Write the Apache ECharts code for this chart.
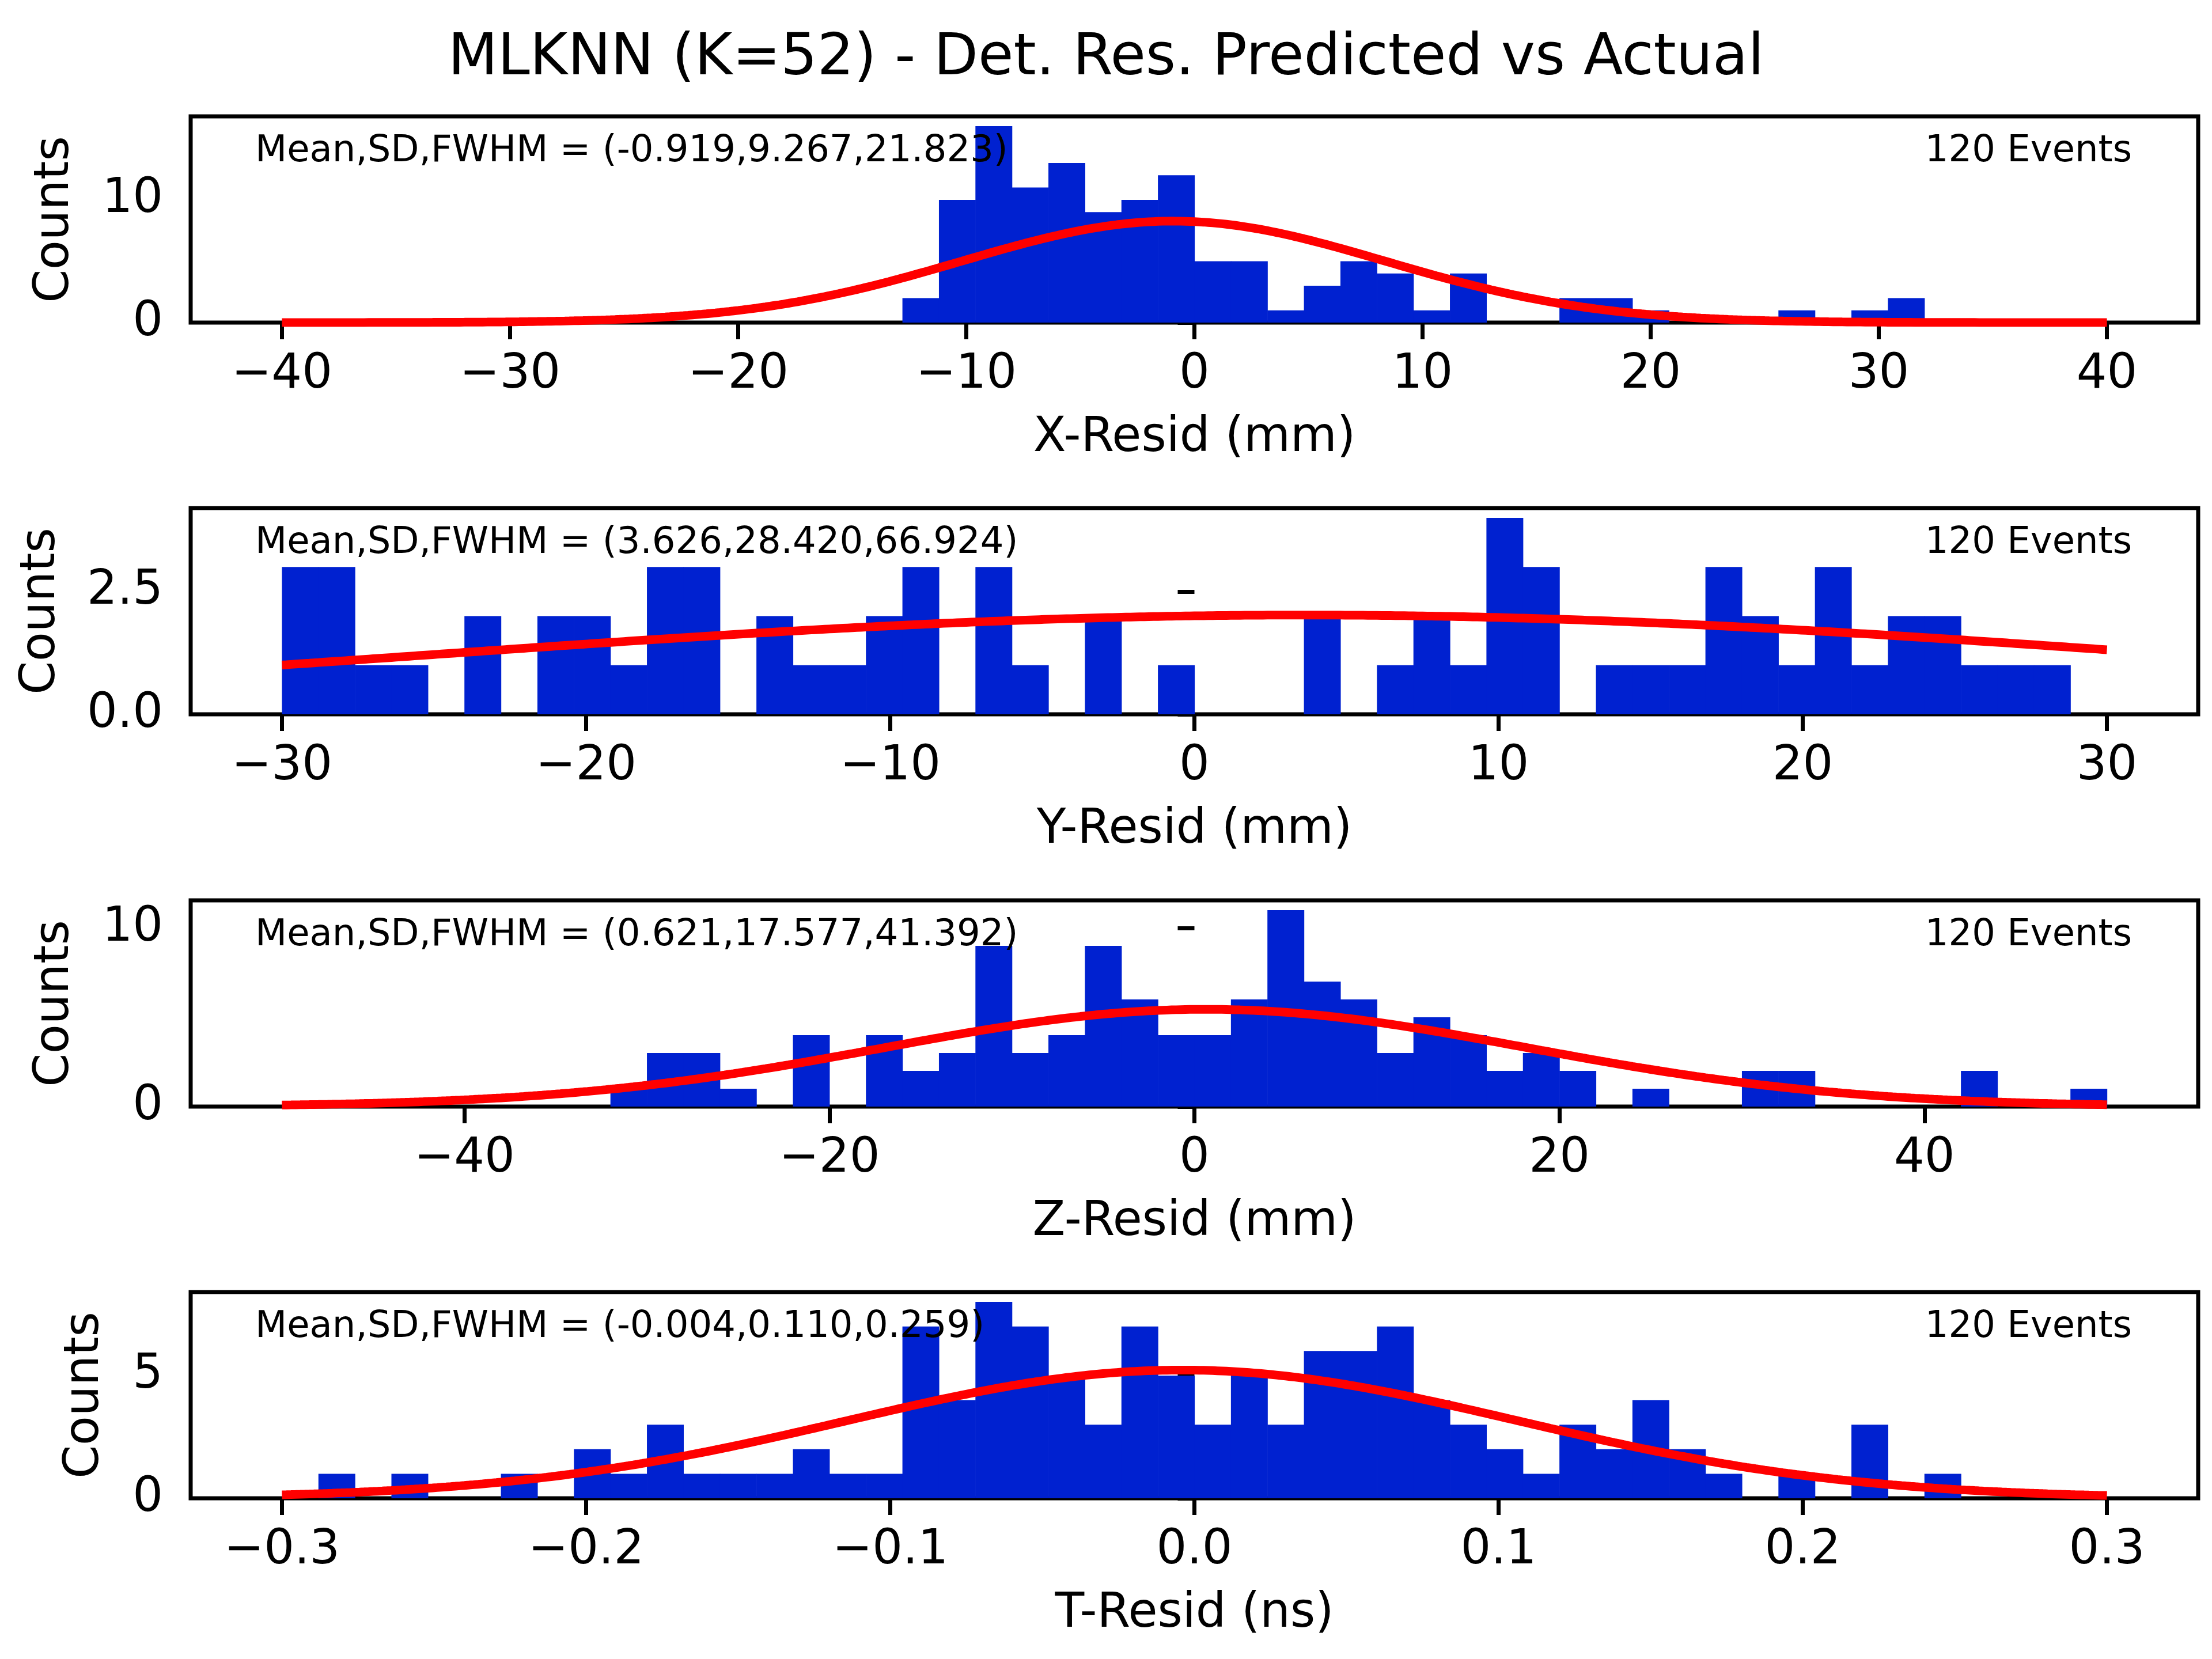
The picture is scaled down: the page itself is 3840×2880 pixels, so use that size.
<!DOCTYPE html>
<html><head><meta charset="utf-8">
<script src="https://cdn.jsdelivr.net/npm/echarts@6/dist/echarts.min.js"></script>
<style>html,body{margin:0;padding:0;background:#fff}#c{width:3840px;height:2880px}</style>
</head><body><div id="c"></div>
<script>
const titleText = 'MLKNN (K=52) - Det. Res. Predicted vs Actual';
const axisNames = ['X-Resid (mm)', 'Y-Resid (mm)', 'Z-Resid (mm)', 'T-Resid (ns)'];
const ranges = [[-40, 40], [-30, 30], [-50, 50], [-0.3, 0.3]];
const nEvents = 120;
const means = [-0.919, 3.626, 0.621, -0.004];
const sds = [9.267, 28.420, 17.577, 0.110];
const fwhms = ['21.823', '66.924', '41.392', '0.259'];
const meanTxt = ['-0.919', '3.626', '0.621', '-0.004'];
const sdTxt = ['9.267', '28.420', '17.577', '0.110'];
const xCounts = [0,0,0,0,0,0,0,0,0,0,0,0,0,0,0,0,0,2,10,16,11,13,9,10,12,5,5,1,3,5,4,1,4,0,0,2,2,1,0,0,0,1,0,1,2,0,0,0,0,0];
const yCounts = [3,3,1,1,0,2,0,2,2,1,3,3,0,2,1,1,2,3,0,3,1,0,2,0,1,0,0,0,2,0,1,2,1,4,3,0,1,1,1,3,2,1,3,1,2,2,1,1,1,0];
const zCounts = [0,0,0,0,0,0,0,0,0,1,3,3,1,0,4,0,4,2,3,9,3,4,9,6,4,4,6,11,7,6,3,5,4,2,3,2,0,1,0,0,2,2,0,0,0,0,2,0,0,1];
const tCounts = [0,1,0,1,0,0,1,0,2,1,3,1,1,1,2,1,1,7,4,8,7,5,3,7,5,3,5,3,6,6,7,4,3,2,1,3,2,4,2,1,0,1,0,3,0,1,0,0,0,0];
const counts = [xCounts, yCounts, zCounts, tCounts];
const xTicks = [[-40,-30,-20,-10,0,10,20,30,40],[-30,-20,-10,0,10,20,30],[-40,-20,0,20,40],[-0.3,-0.2,-0.1,0,0.1,0.2,0.3]];
const yTicks = [[0,10],[0,2.5],[0,10],[0,5]];
const yMax = [16.8, 4.2, 11.55, 8.4];
const tDigits = [0,0,0,1];
const yDigits = [0,1,0,0];

const tops = [202, 882, 1563, 2243];
const H = 358;
const nameGapsY = [193, 217, 193, 141];
const F = 'DejaVu Sans';
const fmt = (v, d) => { const s = v.toFixed(d); return s.replace('-', '\u2212'); };

const grids = [], xAxes = [], yAxes = [], series = [], titles = [];
titles.push({text: titleText, left: 'center', top: 48, textStyle: {fontFamily: F, fontSize: 100, fontWeight: 'normal', color: '#000'}});
for (let i = 0; i < 4; i++) {
  const [lo, hi] = ranges[i];
  const pad = (hi - lo) * 0.05;
  grids.push({left: 331, right: 24, top: tops[i], height: H, show: true, borderColor: '#000', borderWidth: 7, backgroundColor: 'transparent'});
  xAxes.push({type: 'value', gridIndex: i, min: lo - pad, max: hi + pad,
    name: axisNames[i], nameLocation: 'middle', nameGap: 160,
    nameTextStyle: {fontFamily: F, fontSize: 83, color: '#000'},
    axisLine: {show: false}, splitLine: {show: false},
    axisTick: {show: true, inside: false, length: 29, lineStyle: {color: '#000', width: 7}, customValues: xTicks[i]},
    axisLabel: {fontFamily: F, fontSize: 83, color: '#000', margin: 50, customValues: xTicks[i], formatter: v => fmt(v, tDigits[i])}});
  yAxes.push({type: 'value', gridIndex: i, min: 0, max: yMax[i],
    name: 'Counts', nameLocation: 'middle', nameGap: nameGapsY[i], nameRotate: 90,
    nameTextStyle: {fontFamily: F, fontSize: 83, color: '#000'},
    axisLine: {show: false}, splitLine: {show: false},
    axisTick: {show: true, inside: false, length: 29, lineStyle: {color: '#000', width: 7}, customValues: yTicks[i]},
    axisLabel: {fontFamily: F, fontSize: 83, color: '#000', margin: 48, customValues: yTicks[i], formatter: v => fmt(v, yDigits[i])}});
  const bw = (hi - lo) / counts[i].length;
  const barData = counts[i].map((c, k) => [lo + k * bw, lo + (k + 1) * bw, c]).filter(d => d[2] > 0);
  series.push({type: 'custom', xAxisIndex: i, yAxisIndex: i, data: barData, z: 2,
    renderItem: (params, api) => {
      const p0 = api.coord([api.value(0), api.value(2)]);
      const p1 = api.coord([api.value(1), 0]);
      return {type: 'rect', shape: {x: p0[0], y: p0[1], width: p1[0] - p0[0] + 0.6, height: p1[1] - p0[1]}, style: {fill: '#0021d0'}};
    }});
  const amp = nEvents * bw / (sds[i] * Math.sqrt(2 * Math.PI));
  const curve = [];
  for (let k = 0; k <= 400; k++) {
    const x = lo + (hi - lo) * k / 400;
    curve.push([x, amp * Math.exp(-0.5 * Math.pow((x - means[i]) / sds[i], 2))]);
  }
  series.push({type: 'line', xAxisIndex: i, yAxisIndex: i, data: curve, showSymbol: false, z: 3,
    lineStyle: {color: '#ff0000', width: 15}, animation: false});
  titles.push({text: 'Mean,SD,FWHM = (' + meanTxt[i] + ',' + sdTxt[i] + ',' + fwhms[i] + ')', left: 438, top: tops[i] + 24,
    textStyle: {fontFamily: F, fontSize: 64, fontWeight: 'normal', color: '#000'}});
  titles.push({text: nEvents + ' Events', right: 134, top: tops[i] + 24,
    textStyle: {fontFamily: F, fontSize: 64, fontWeight: 'normal', color: '#000'}});
}
const chart = echarts.init(document.getElementById('c'));
chart.setOption({animation: false, backgroundColor: '#fff', title: titles, grid: grids, xAxis: xAxes, yAxis: yAxes, series: series});
</script></body></html>
